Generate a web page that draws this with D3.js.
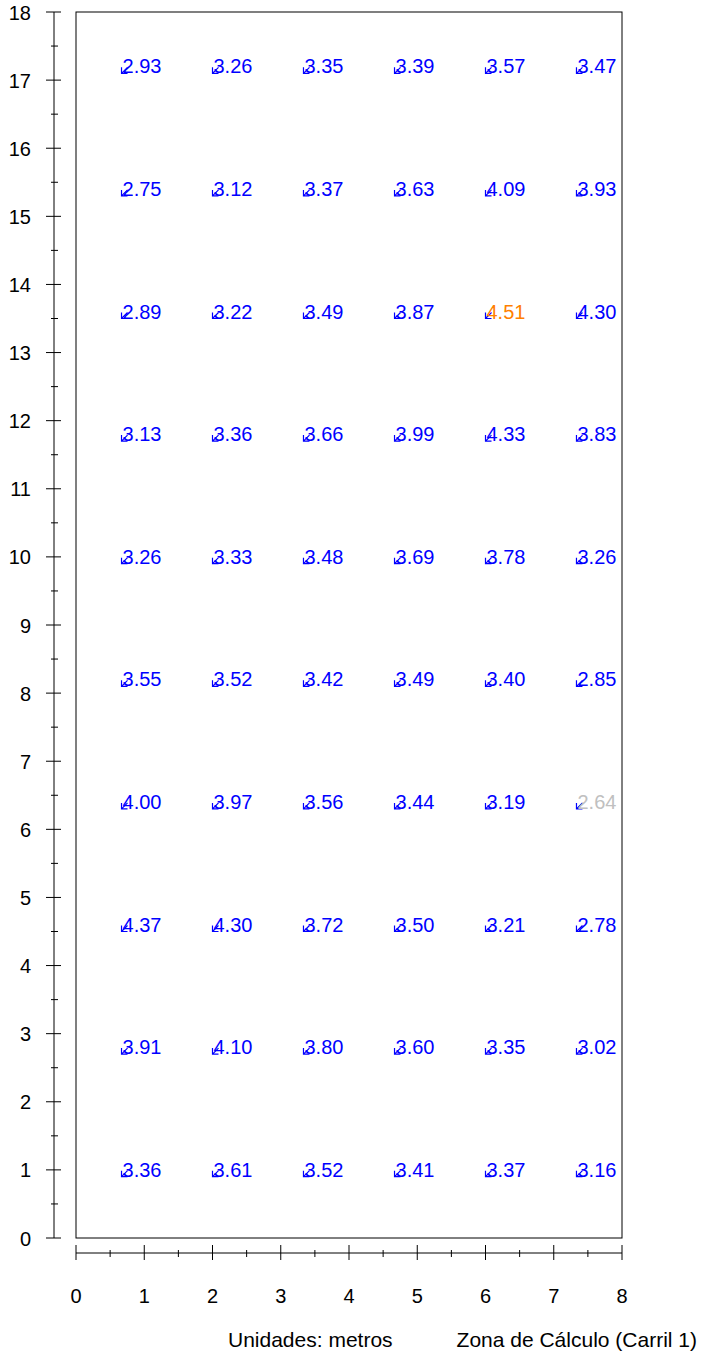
<!DOCTYPE html>
<html>
<head>
<meta charset="utf-8">
<script src="https://cdn.jsdelivr.net/npm/d3@7"></script>
<style>
  body { margin: 0; background: #fff; }
  svg text { font-family: Arial, "Liberation Sans", sans-serif; }
</style>
</head>
<body>
<div id="chart"></div>
<script>
// grid point positions (metres)
var xs = [0.667, 2.0, 3.333, 4.667, 6.0, 7.333];
var ys = [17.1, 15.3, 13.5, 11.7, 9.9, 8.1, 6.3, 4.5, 2.7, 0.9];
// values per row, top row first
var values = [
  [2.93, 3.26, 3.35, 3.39, 3.57, 3.47],
  [2.75, 3.12, 3.37, 3.63, 4.09, 3.93],
  [2.89, 3.22, 3.49, 3.87, 4.51, 4.30],
  [3.13, 3.36, 3.66, 3.99, 4.33, 3.83],
  [3.26, 3.33, 3.48, 3.69, 3.78, 3.26],
  [3.55, 3.52, 3.42, 3.49, 3.40, 2.85],
  [4.00, 3.97, 3.56, 3.44, 3.19, 2.64],
  [4.37, 4.30, 3.72, 3.50, 3.21, 2.78],
  [3.91, 4.10, 3.80, 3.60, 3.35, 3.02],
  [3.36, 3.61, 3.52, 3.41, 3.37, 3.16]
];
var xTicks = d3.range(0, 9);
var yTicks = d3.range(0, 19);
var unitsLabel = 'Unidades: metros';
var zoneLabel = 'Zona de Cálculo (Carril 1)';

var W = 701, H = 1355;
var x = d3.scaleLinear().domain([0, 8]).range([76, 622]);
var y = d3.scaleLinear().domain([0, 18]).range([1238, 12]);

var svg = d3.select('#chart').append('svg')
  .attr('width', W).attr('height', H);

// frame
svg.append('rect')
  .attr('x', x(0)).attr('y', y(18))
  .attr('width', x(8) - x(0)).attr('height', y(0) - y(18))
  .attr('fill', 'none').attr('stroke', '#000').attr('stroke-width', 1);

// y axis (detached, left)
var yAxisX = 54;
var gy = svg.append('g').attr('stroke', '#000').attr('stroke-width', 1);
gy.append('line').attr('x1', yAxisX).attr('x2', yAxisX).attr('y1', y(0)).attr('y2', y(18));
gy.selectAll('.maj').data(yTicks).enter().append('line')
  .attr('x1', yAxisX - 8).attr('x2', yAxisX + 7)
  .attr('y1', function(d) { return y(d); }).attr('y2', function(d) { return y(d); });
gy.selectAll('.min').data(d3.range(0.5, 18, 1)).enter().append('line')
  .attr('x1', yAxisX - 3).attr('x2', yAxisX + 4)
  .attr('y1', function(d) { return y(d); }).attr('y2', function(d) { return y(d); });
svg.selectAll('.ylab').data(yTicks).enter().append('text')
  .attr('x', 31).attr('y', function(d) { return y(d) + 7.5; })
  .attr('text-anchor', 'end').attr('font-size', 20).attr('fill', '#000')
  .text(function(d) { return d; });

// x axis (detached, below)
var xAxisY = 1253;
var gx = svg.append('g').attr('stroke', '#000').attr('stroke-width', 1);
gx.append('line').attr('x1', x(0)).attr('x2', x(8)).attr('y1', xAxisY).attr('y2', xAxisY);
gx.selectAll('.maj').data(xTicks).enter().append('line')
  .attr('x1', function(d) { return x(d); }).attr('x2', function(d) { return x(d); })
  .attr('y1', xAxisY - 8).attr('y2', xAxisY + 7);
gx.selectAll('.min').data(d3.range(0.5, 8, 1)).enter().append('line')
  .attr('x1', function(d) { return x(d); }).attr('x2', function(d) { return x(d); })
  .attr('y1', xAxisY - 3).attr('y2', xAxisY + 4);
svg.selectAll('.xlab').data(xTicks).enter().append('text')
  .attr('x', function(d) { return x(d); }).attr('y', 1303)
  .attr('text-anchor', 'middle').attr('font-size', 20).attr('fill', '#000')
  .text(function(d) { return d; });

// points
var flat = [];
values.forEach(function(row, i) {
  row.forEach(function(v, j) { flat.push({x: xs[j], y: ys[i], v: v}); });
});
var vmax = d3.max(flat, function(d) { return d.v; });
var vmin = d3.min(flat, function(d) { return d.v; });
function colour(v) {
  if (v === vmax) return '#ff8000';
  if (v === vmin) return '#c0c0c0';
  return '#0000ff';
}

var pts = svg.selectAll('.pt').data(flat).enter().append('g')
  .attr('transform', function(d) { return 'translate(' + x(d.x) + ',' + y(d.y) + ')'; });
pts.append('path')
  .attr('d', 'M0,-6L0,0L6,0M0,0L6,-6')
  .attr('fill', 'none').attr('stroke', '#0000ff').attr('stroke-width', 1.2);
pts.append('text')
  .attr('x', 1).attr('y', 0)
  .attr('font-size', 20)
  .attr('fill', function(d) { return colour(d.v); })
  .text(function(d) { return d.v.toFixed(2); });

// footer labels
svg.append('text').attr('x', 228).attr('y', 1347).attr('font-size', 21).text(unitsLabel);
svg.append('text').attr('x', 697).attr('y', 1347).attr('text-anchor', 'end')
  .attr('font-size', 21).text(zoneLabel);
</script>
</body>
</html>
